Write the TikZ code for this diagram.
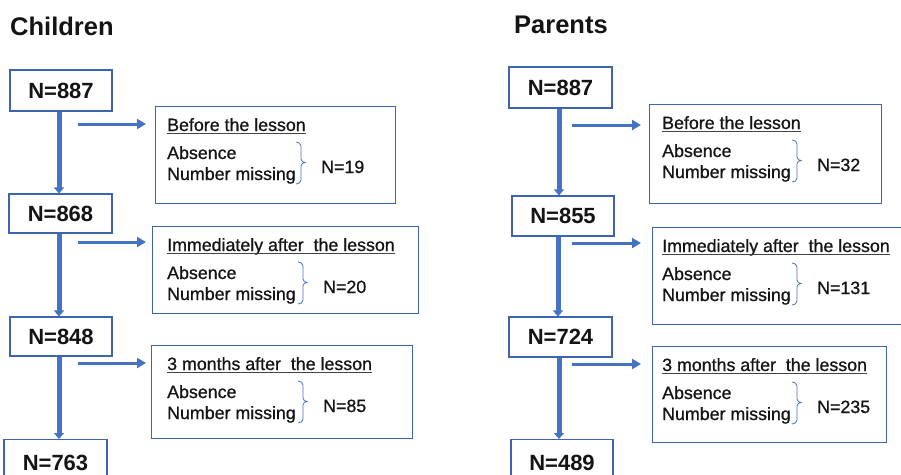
\documentclass[tikz,border=0pt]{standalone}
\usepackage{fontspec}
\setmainfont{Liberation Sans}
\newfontfamily\medsans{Liberation Sans}[BoldFont={Liberation Sans},BoldFeatures={FakeBold=0.8}]
\newfontfamily\libsans{Liberation Sans}
\usetikzlibrary{arrows.meta}
\definecolor{arrowblue}{RGB}{68,114,196}
\definecolor{boxblue}{RGB}{60,100,175}
\definecolor{txt}{RGB}{20,20,20}
\newcommand{\sidebox}[9]{%
  \node[sideframe,anchor=north west,minimum width=#4pt,minimum height=#5pt] (#1) at (#2,#3) {};
  \node[sidetext,anchor=base west] (#1t) at (#8,#3+25) {#6};
  \draw[uline] ([yshift=-2.5pt]#1t.base west) -- ([yshift=-2.5pt]#1t.base east);
  \node[sidetext,anchor=base west] (#1a) at (#8,#3+53) {Absence};
  \node[sidetext,anchor=base west] (#1b) at (#8,#3+74) {Number missing};
  \draw[bracestyle] (#9-5,#3+36) to[out=0,in=90] (#9,#3+40) -- (#9,#3+53)
     to[out=-90,in=180] (#9+4,#3+56.5) to[out=180,in=90] (#9,#3+60) -- (#9,#3+74)
     to[out=-90,in=0] (#9-5,#3+78);
  \node[ntext,anchor=base west] (#1n) at (#9+20,#3+67) {#7};
}
\begin{document}
\begin{tikzpicture}[x=1pt,y=-1pt,
  mainbox/.style={draw=boxblue,line width=1.1pt,fill=white,inner sep=0pt,
    font=\libsans\bfseries\fontsize{22}{26}\selectfont,text=txt},
  sideframe/.style={draw=boxblue,line width=1.1pt,inner sep=0pt},
  sidetext/.style={inner sep=0pt,font=\medsans\bfseries\fontsize{17.8}{21}\selectfont,text=txt},
  ntext/.style={inner sep=0pt,font=\medsans\bfseries\fontsize{17.8}{21}\selectfont,text=txt},
  uline/.style={draw=txt!80,line width=1.1pt},
  bracestyle/.style={draw=arrowblue,line width=0.8pt},
  vline/.style={draw=arrowblue,line width=5pt,-{Triangle[length=6pt,width=10pt]}},
  hline/.style={draw=arrowblue,line width=3pt,-{Triangle[length=9pt,width=10pt]}},
  title/.style={inner sep=0pt,anchor=base west,font=\libsans\bfseries\fontsize{25.5}{30}\selectfont,text=txt}
]
\clip (0,0) rectangle (901,474);
\fill[white] (0,0) rectangle (901,474);

% titles
\node[title] (tc) at (10,35) {Children};
\node[title] (tp) at (514,33) {Parents};

% children main boxes
\node[mainbox,minimum width=102pt,minimum height=41pt] (c887) at (61,90.5) {N=887};
\node[mainbox,minimum width=103pt,minimum height=39pt] (c868) at (60.5,213.5) {N=868};
\node[mainbox,minimum width=102pt,minimum height=39pt] (c848) at (61,336.5) {N=848};
\node[mainbox,minimum width=103pt,minimum height=46pt,anchor=north] (c763) at (55.5,439) {N=763};

% parents main boxes
\node[mainbox,minimum width=103pt,minimum height=41pt] (p887) at (560.5,87.5) {N=887};
\node[mainbox,minimum width=102pt,minimum height=40pt] (p855) at (563,216) {N=855};
\node[mainbox,minimum width=103pt,minimum height=40pt] (p724) at (560.5,337) {N=724};
\node[mainbox,minimum width=102pt,minimum height=46pt,anchor=north] (p489) at (562,439) {N=489};

% vertical arrows
\draw[vline] ([xshift=-2pt]c887.south) -- ([xshift=-2pt]c887.south |- c868.north);
\draw[vline] ([xshift=-1.5pt]c868.south) -- ([xshift=-1.5pt]c868.south |- c848.north);
\draw[vline] ([xshift=-2pt]c848.south) -- ([xshift=-2pt]c848.south |- c763.north);
\draw[vline] ([xshift=-1.5pt]p887.south) -- ([xshift=-1.5pt]p887.south |- p855.north);
\draw[vline] ([xshift=-5pt]p855.south) -- ([xshift=-5pt]p855.south |- p724.north);
\draw[vline] ([xshift=-1.5pt]p724.south) -- ([xshift=-1.5pt]p724.south |- p489.north);

% side boxes (children)
\sidebox{cs1}{155}{106}{240}{97}{Before the lesson}{N=19}{167}{301}
\sidebox{cs2}{152}{226}{266}{87}{Immediately after\ \ the lesson}{N=20}{167}{303}
\sidebox{cs3}{151}{345}{261}{93}{3 months after\ \ the lesson}{N=85}{167}{303}

% side boxes (parents)
\sidebox{ps1}{649}{104}{232}{99}{Before the lesson}{N=32}{662}{797}
\sidebox{ps2}{652}{227}{260}{97}{Immediately after\ \ the lesson}{N=131}{662}{797}
\sidebox{ps3}{652}{346}{234}{96}{3 months after\ \ the lesson}{N=235}{662}{797}

% horizontal arrows
\coordinate (ca1) at (78,124);
\coordinate (ca2) at (78,242);
\coordinate (ca3) at (78,363);
\coordinate (pa1) at (572,125);
\coordinate (pa2) at (572,243);
\coordinate (pa3) at (572,364);
\draw[hline] (ca1) -- ([xshift=-9pt]ca1 -| cs1.west);
\draw[hline] (ca2) -- ([xshift=-6pt]ca2 -| cs2.west);
\draw[hline] (ca3) -- ([xshift=-5pt]ca3 -| cs3.west);
\draw[hline] (pa1) -- ([xshift=-8pt]pa1 -| ps1.west);
\draw[hline] (pa2) -- ([xshift=-11pt]pa2 -| ps2.west);
\draw[hline] (pa3) -- ([xshift=-11pt]pa3 -| ps3.west);
\end{tikzpicture}
\end{document}
